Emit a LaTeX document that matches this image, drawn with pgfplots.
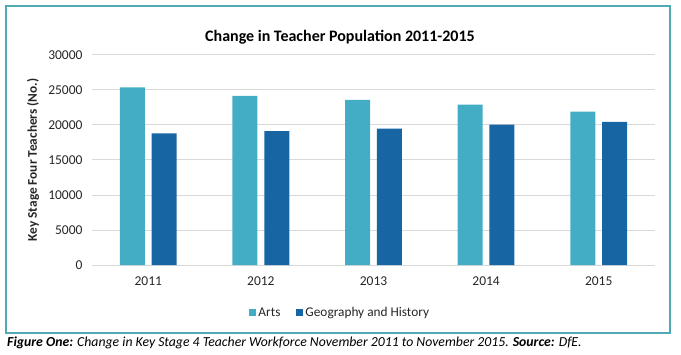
\documentclass[border=0pt]{standalone}
\usepackage{pgfplots}
\pgfplotsset{compat=1.18}
\usepackage{fontspec}
\setmainfont{Carlito}
\definecolor{artsc}{HTML}{42ADC4}
\definecolor{geoc}{HTML}{1766A3}
\definecolor{framec}{HTML}{4FAAB5}
\definecolor{gridc}{HTML}{D9D9D9}
\definecolor{txtc}{HTML}{262626}
\begin{document}
\begin{tikzpicture}[x=1pt,y=1pt]
\path[use as bounding box] (0,0) rectangle (681,354);
\draw[framec, line width=1.2pt] (6,21) rectangle (670,348);
\node[anchor=base, inner sep=0pt, font=\fontsize{16}{18}\selectfont\bfseries] at (340,312) {Change in Teacher Population 2011-2015};
\begin{axis}[
  name=ax,
  at={(92pt,89pt)}, anchor=south west,
  scale only axis, width=563pt, height=210.3pt,
  xmin=-0.5, xmax=4.5, ymin=0, ymax=30000,
  ybar=6.8pt, bar width=25pt,
  xtick={0,1,2,3,4}, xticklabels={2011,2012,2013,2014,2015},
  ytick={0,5000,10000,15000,20000,25000,30000},
  scaled y ticks=false,
  yticklabel={\pgfmathprintnumber[fixed,1000 sep={}]{\tick}},
  /pgf/number format/assume math mode=true,
  axis line style={draw=none}, tick style={draw=none},
  xmajorgrids=false, ymajorgrids=true,
  major grid style={draw=gridc, line width=0.8pt},
  ticklabel style={font=\fontsize{13.5}{15}\selectfont, text=txtc},
  yticklabel style={xshift=-6pt},
  xticklabel style={yshift=-4pt},
  ylabel={Key Stage Four Teachers (No.)},
  ylabel style={at={(axis description cs:-0.1048,0.5)}, anchor=center, rotate=0, font=\fontsize{13.3}{15}\selectfont\bfseries, text=txtc},
  legend style={at={(axis description cs:0.441,-0.227)}, anchor=center, draw=none, fill=none, legend columns=2, font=\fontsize{13.3}{15}\selectfont, text=txtc,
    /tikz/every even column/.append style={column sep=14pt}},
  legend image code/.code={\path[#1,draw=none] (0pt,-3.5pt) rectangle (7pt,3.5pt);},
]
\addplot[fill=artsc, draw=none] coordinates {(0,25350) (1,24110) (2,23540) (3,22870) (4,21870)};
\addplot[fill=geoc, draw=none] coordinates {(0,18790) (1,19110) (2,19450) (3,20010) (4,20400)};
\legend{Arts, Geography and History}
\end{axis}
\node[anchor=base west, inner sep=0pt, font=\fontsize{13.75}{15}\selectfont\itshape] at (7,8) {\textbf{Figure One:} Change in Key Stage 4 Teacher Workforce November 2011 to November 2015. \textbf{Source:} DfE.};
\end{tikzpicture}
\end{document}
